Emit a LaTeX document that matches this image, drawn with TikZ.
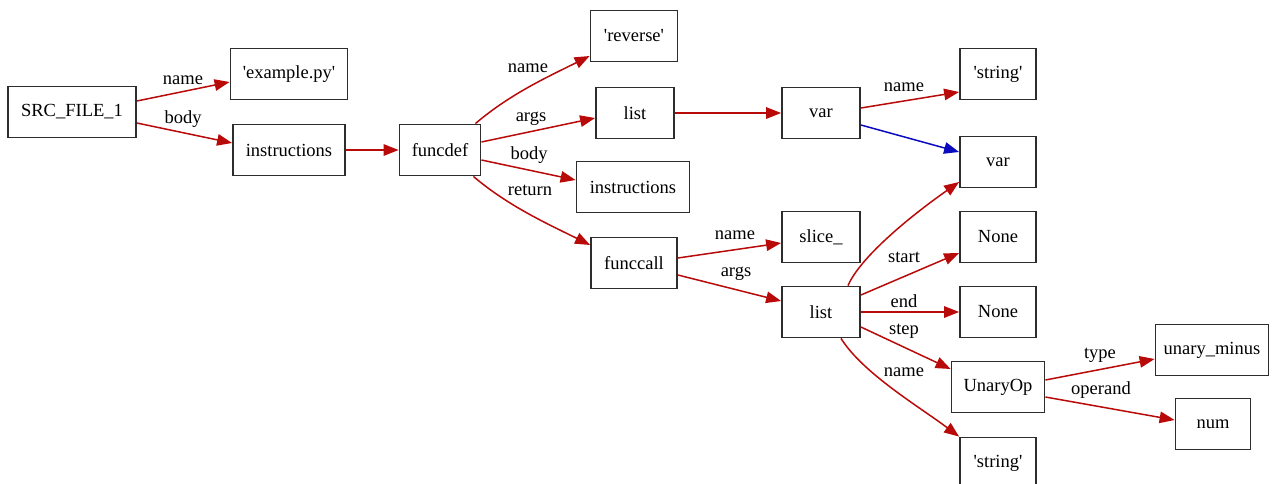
\documentclass[tikz,border=0pt]{standalone}
\usepackage{fontspec}
\setmainfont{Liberation Serif}
\usetikzlibrary{arrows.meta,calc}
\definecolor{edgered}{RGB}{185,10,10}
\definecolor{edgeblue}{RGB}{10,10,190}
\definecolor{boxline}{RGB}{45,45,45}
\newcommand{\tq}{\textquotesingle}
\begin{document}
\begin{tikzpicture}[x=1pt,y=-1pt,
  box/.style={draw=boxline,line width=1.8pt,inner sep=0pt,minimum height=51pt,
    font=\fontsize{18.5}{22}\selectfont},
  link/.style={draw=edgered,line width=1.5pt,-{Triangle[length=15pt,width=11.5pt]}},
  bluelink/.style={link,draw=edgeblue},
  lbl/.style={font=\fontsize{18.5}{22}\selectfont,inner sep=0pt}]
\useasboundingbox (0,0) rectangle (1272,483);

% AST nodes
\node[box,minimum width=128pt] (src)  at (72,112)  {SRC\_FILE\_1};
\node[box,minimum width=117pt] (ex)   at (289,74)  {\tq example.py\tq};
\node[box,minimum width=112pt] (in1)  at (289,150) {instructions};
\node[box,minimum width=81pt]  (fd)   at (440,150) {funcdef};
\node[box,minimum width=87pt]  (rev)  at (634,36)  {\tq reverse\tq};
\node[box,minimum width=78pt]  (l1)   at (635,113) {list};
\node[box,minimum width=113pt] (in2)  at (633,187) {instructions};
\node[box,minimum width=86pt]  (fc)   at (634,263) {funccall};
\node[box,minimum width=78pt]  (v1)   at (821,113) {var};
\node[box,minimum width=76pt]  (s1)   at (998,74)  {\tq string\tq};
\node[box,minimum width=76pt]  (v2)   at (998,162) {var};
\node[box,minimum width=78pt]  (sl)   at (821,237) {slice\_};
\node[box,minimum width=78pt]  (l2)   at (821,312) {list};
\node[box,minimum width=76pt]  (n1)   at (998,237) {None};
\node[box,minimum width=76pt]  (n2)   at (998,312) {None};
\node[box,minimum width=93pt]  (uo)   at (998,387) {UnaryOp};
\node[box,minimum width=76pt]  (s2)   at (998,463) {\tq string\tq};
\node[box,minimum width=113pt] (um)   at (1212,350) {unary\_minus};
\node[box,minimum width=75pt]  (num)  at (1213,424) {num};

% connectors
\draw[link] ($(src.east)+(0,-11)$) -- ($(ex.west)+(0,8)$);
\draw[link] ($(src.east)+(0,11)$) -- ($(in1.west)+(0,-7)$);
\draw[link] (in1.east) -- (fd.west);
\draw[link] ($(fd.north east)+(-6,0)$) .. controls +(35,-30) and +(-40,20) .. ($(rev.west)+(0,20)$);
\draw[link] ($(fd.east)+(0,-8)$) -- ($(l1.west)+(0,5)$);
\draw[link] ($(fd.east)+(0,10)$) -- ($(in2.west)+(0,-7)$);
\draw[link] ($(fd.south east)+(-8,0)$) .. controls +(35,30) and +(-40,-20) .. ($(fc.west)+(0,-18)$);
\draw[link] (l1.east) -- (v1.west);
\draw[link] ($(v1.east)+(0,-5)$) -- ($(s1.west)+(0,18)$);
\draw[bluelink] ($(v1.east)+(0,12)$) -- ($(v2.west)+(0,-10)$);
\draw[link] ($(fc.east)+(0,-5)$) -- ($(sl.west)+(0,6)$);
\draw[link] ($(fc.east)+(0,12)$) -- ($(l2.west)+(0,-11)$);
\draw[link] ($(l2.north)+(27,0)$) .. controls +(12,-28) and +(-50,35) .. ($(v2.west)+(0,20)$);
\draw[link] ($(l2.east)+(0,-17)$) -- ($(n1.west)+(0,16)$);
\draw[link] (l2.east) -- (n2.west);
\draw[link] ($(l2.east)+(0,15)$) -- ($(uo.west)+(0,-18)$);
\draw[link] ($(l2.south)+(20,0)$) .. controls +(22,35) and +(-40,-30) .. (s2.north west);
\draw[link] ($(uo.east)+(0,-7)$) -- ($(um.west)+(0,9)$);
\draw[link] ($(uo.east)+(0,10)$) -- ($(num.west)+(0,-4)$);

% edge labels
\node[lbl] (t1)  at (183,80)  {name};
\node[lbl] (t2)  at (183,119) {body};
\node[lbl] (t3)  at (528,68)  {name};
\node[lbl] (t4)  at (531,119) {args};
\node[lbl] (t5)  at (529,155) {body};
\node[lbl] (t6)  at (530,190) {return};
\node[lbl] (t7)  at (904,87)  {name};
\node[lbl] (t8)  at (735,235) {name};
\node[lbl] (t9)  at (736,274) {args};
\node[lbl] (t10) at (904,257) {start};
\node[lbl] (t11) at (904,301) {end};
\node[lbl] (t12) at (904,331) {step};
\node[lbl] (t13) at (904,372) {name};
\node[lbl] (t14) at (1100,355) {type};
\node[lbl] (t15) at (1101,390) {operand};
\end{tikzpicture}
\end{document}
